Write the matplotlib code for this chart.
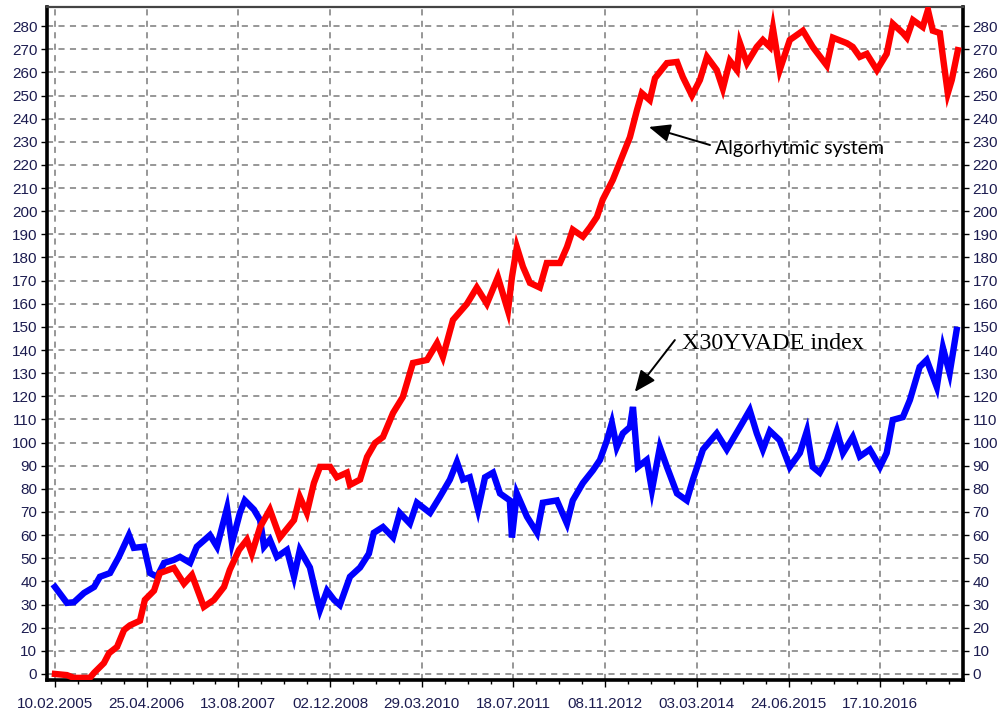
import numpy as np
import matplotlib
matplotlib.use("Agg")
import matplotlib.pyplot as plt
from matplotlib.ticker import MultipleLocator

# bar index (trading days) -> value
red_x = [0, 39, 62, 114, 128, 160, 177, 203, 226, 245, 278, 294, 324, 343, 389,
         422, 448, 487, 520, 553, 572, 602, 628, 644, 671, 703, 736, 782, 801,
         824, 847, 867, 900, 922, 955, 965, 998, 1021, 1047, 1073, 1106, 1138,
         1171, 1217, 1250, 1269, 1302, 1348, 1380, 1413, 1449, 1482, 1495, 1511,
         1531, 1554, 1586, 1609, 1652, 1675, 1694, 1727, 1750, 1773, 1792, 1825,
         1881, 1904, 1920, 1946, 1963, 2002, 2035, 2054, 2084, 2110, 2133, 2165,
         2185, 2208, 2231, 2241, 2264, 2296, 2316, 2339, 2349, 2371, 2404, 2447,
         2479, 2525, 2545, 2591, 2610, 2633, 2656, 2689, 2721, 2741, 2774, 2787,
         2807, 2839, 2856, 2872, 2895, 2905, 2921, 2934, 2954]
red_y = [0, -0.5, -1.7, -1.7, 0.5, 4.7, 9, 11.7, 19, 21, 23, 32, 36, 43.6, 45.8,
         39, 42.8, 29, 32, 37.6, 45, 53.6, 58, 52, 63.5, 71, 59, 66.5, 76.5,
         69.6, 82.5, 89.5, 89.5, 85, 87, 81.7, 84, 93.8, 99.8, 102.4, 112.8, 119.7,
         134.4, 135.7, 143, 137, 153, 160, 167, 160, 171.5, 157, 171.5, 184.5,
         176, 169, 167, 177.6, 177.6, 184.5, 192, 189, 193, 197.5, 205, 213.5,
         232, 243.7, 251, 248, 257.5, 264, 264.5, 258, 250, 256.7, 266.7, 261,
         253, 265, 261, 272.6, 264, 271, 274, 271, 279, 261, 274, 278,
         271, 263, 275, 272.6, 271, 266.7, 268, 261, 268, 281, 277, 275,
         282.6, 279.6, 287, 278, 277, 266.7, 251, 256.7, 269.6]

blue_x = [0, 39, 62, 95, 128, 147, 180, 209, 242, 258, 291, 311, 334, 357, 389,
          409, 442, 464, 507, 530, 563, 579, 605, 621, 651, 671, 684, 703, 726,
          759, 782, 801, 834, 857, 867, 890, 913, 932, 965, 998, 1027, 1043, 1073,
          1106, 1128, 1161, 1184, 1227, 1259, 1292, 1315, 1335, 1357, 1384, 1407,
          1433, 1456, 1488, 1495, 1511, 1544, 1577, 1596, 1642, 1675, 1694, 1727,
          1760, 1783, 1806, 1822, 1838, 1858, 1881, 1891, 1907, 1936, 1953, 1979,
          2002, 2035, 2067, 2087, 2120, 2165, 2198, 2241, 2273, 2296, 2316, 2339,
          2371, 2404, 2437, 2460, 2479, 2502, 2525, 2558, 2578, 2610, 2633, 2666,
          2699, 2721, 2741, 2774, 2797, 2829, 2852, 2885, 2905, 2927, 2950]
blue_y = [37.6, 30.7, 31, 35, 37.6, 42, 43.6, 50.6, 60, 54.5, 55, 43.6, 42, 48, 49.3,
          50.6, 48, 55, 60, 55, 71.7, 56.6, 69.6, 75, 71, 66.5, 55, 58, 50.6,
          53.6, 42, 53.6, 46, 33, 27.7, 36, 32, 29.8, 42, 46, 52, 61, 63.5,
          59, 69.6, 65, 74, 69.6, 76.5, 84, 91.6, 84, 85, 71, 85,
          87, 78, 75, 59, 78, 68, 61, 74, 75, 65, 75, 82.5,
          88, 92.5, 101, 108.5, 98, 104, 106.7, 115.4, 89.5, 92.5, 79.5, 98,
          89.5, 78, 75, 84, 97, 104, 97, 106.7, 114, 104, 97, 105,
          101, 89.5, 95.5, 105, 89.5, 87, 92.5, 105, 95.5, 102.4, 94, 97,
          89.5, 95.5, 109.8, 111, 118.4, 132.7, 135.7, 124, 141, 130, 148.7]

date_labels = ["10.02.2005", "25.04.2006", "13.08.2007", "02.12.2008", "29.03.2010",
               "18.07.2011", "08.11.2012", "03.03.2014", "24.06.2015", "17.10.2016"]
date_pos = [i * 300 for i in range(len(date_labels))]

lbl_color = "#1c1c50"
tick_cols = ["#c05080", "#50a050", "#8060c0", "#40a0a0"]

fig = plt.figure(figsize=(10.03, 7.12), dpi=100)
ax = fig.add_axes([0.0469, 0.045, 0.913, 0.945])

ax.plot(blue_x, blue_y, color="#0000ff", lw=4.6, solid_joinstyle="miter", zorder=3)
ax.plot(red_x, red_y, color="#ff0000", lw=4.6, solid_joinstyle="miter", zorder=4)

ax.set_xlim(-26, 2970)
ax.set_ylim(-2.6, 288.2)

ax.set_xticks(date_pos)
ax.set_xticklabels(date_labels)
ax.xaxis.set_minor_locator(MultipleLocator(75))
ax.yaxis.set_major_locator(MultipleLocator(10))

ax.tick_params(axis="x", which="major", length=5, width=1, pad=7,
               labelsize=11, labelcolor=lbl_color)
ax.tick_params(axis="x", which="minor", length=3, width=1)
ax.tick_params(axis="y", which="major", length=4, width=1, pad=3,
               labelsize=11, labelcolor=lbl_color, left=True, right=True,
               labelleft=True, labelright=True)

for ax_ in [ax.xaxis, ax.yaxis]:
    for i, t in enumerate(ax_.get_ticklines(minor=False)):
        t.set_color(tick_cols[(i // 2) % len(tick_cols)])
for i, t in enumerate(ax.xaxis.get_ticklines(minor=True)):
    t.set_color(tick_cols[(i // 2) % len(tick_cols)])

for lab in ax.get_xticklabels() + ax.get_yticklabels():
    lab.set_fontfamily("Liberation Sans")

ax.grid(True, which="major", color="#7a7a7a", ls=(0, (4, 3.5)), lw=1.1)
ax.set_axisbelow(True)

for side in ["left", "bottom", "right"]:
    ax.spines[side].set_linewidth(2.6)
    ax.spines[side].set_color("black")
ax.spines["top"].set_linewidth(1.6)
ax.spines["top"].set_color("#444444")

# annotations
arrow_style = "-|>,head_length=1.3,head_width=0.55"
ax.annotate("", xy=(1943, 236.4), xytext=(2143, 228.6),
            arrowprops=dict(arrowstyle=arrow_style, color="black", lw=1.4,
                            shrinkA=0, shrinkB=0), zorder=6)
ax.text(2159, 226.9, "Algorhytmic system", fontsize=14, family="Lato",
        ha="left", va="center", zorder=6)

ax.annotate("", xy=(1897, 121.9), xytext=(2028, 144.3),
            arrowprops=dict(arrowstyle=arrow_style, color="black", lw=1.4,
                            shrinkA=0, shrinkB=0), zorder=6)
ax.text(2051, 143, "X30YVADE index", fontsize=17.3, family="Liberation Serif",
        ha="left", va="center", zorder=6)

fig.savefig("out.png", dpi=100)
